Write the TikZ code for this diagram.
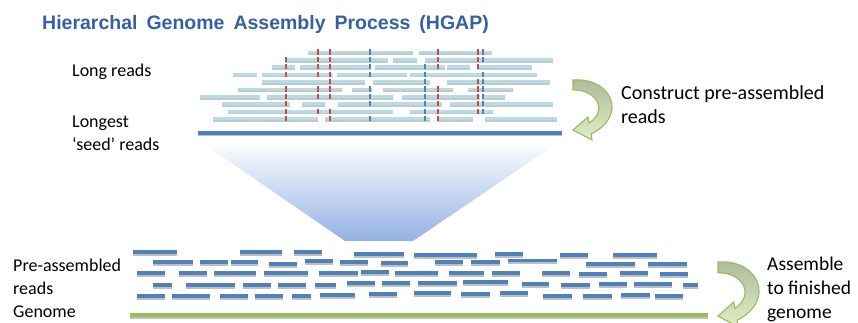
\documentclass[tikz,border=0pt]{standalone}
\usepackage{fontspec}
\setmainfont{Carlito}
\newfontfamily\titlefont{Liberation Sans}
\usetikzlibrary{positioning}

\definecolor{seedblue}{RGB}{79,129,189}
\definecolor{readlight}{RGB}{180,221,234}
\definecolor{markred}{RGB}{200,75,70}
\definecolor{genomegreen}{RGB}{155,187,89}
\definecolor{titleblue}{RGB}{54,96,160}
\definecolor{funnelblue}{RGB}{148,178,228}
\definecolor{curltop}{RGB}{172,184,156}
\definecolor{curlbottom}{RGB}{224,238,198}

\newcommand\widewords{\spaceskip=0.46em\relax}

\tikzset{
    lbl/.style={font=\fontsize{18}{23}\selectfont, inner sep=0pt, anchor=west, align=left},
    biglbl/.style={lbl, font=\fontsize{19.5}{24}\selectfont},
    titlelbl/.style={font=\titlefont\bfseries\fontsize{19.5}{22}\selectfont,
        text=titleblue, inner sep=0pt, anchor=base west},
    longread/.style={draw=readlight, line width=2.8pt,
        preaction={draw=black!22, line width=2.8pt, transform canvas={yshift=-1.8pt}}},
    shortread/.style={draw=seedblue, line width=3.4pt,
        preaction={draw=black!25, line width=3.4pt, transform canvas={yshift=-1.8pt}}},
    redmark/.style={draw=markred, line width=1.6pt},
    bluemark/.style={draw=seedblue, line width=1.6pt},
    curl/.pic={
        \shadedraw[draw=genomegreen, line width=1.1pt, top color=curltop, bottom color=curlbottom]
            (0,0) .. controls (38,-3) and (56,35) .. (18.2,54)
            -- (19,60) -- (0,50) -- (15,37) -- (16,43)
            .. controls (34,32) and (26,10) .. (0,10) -- cycle;
    }
}

\begin{document}
\begin{tikzpicture}[x=1pt, y=-1pt]
    \useasboundingbox (0,0) rectangle (858,323);

    \node[titlelbl] (title) at (42,30) {\widewords Hierarchal Genome Assembly Process (HGAP)};

    % labels on the left
    \node[lbl] (longlbl) at (72,72) {Long reads};
    \node[lbl] (seedlbl) at (72,133.5) {Longest\\‘seed’ reads};
    \node[lbl] (prelbl) at (13,277) {Pre-assembled\\reads};
    \node[lbl] (genomelbl) at (13,312) {Genome};

    % labels on the right
    \node[biglbl, font=\fontsize{20}{24}\selectfont] (constructlbl) at (621,105) {Construct pre-assembled\\reads};
    \node[biglbl] (assemblelbl) at (767,289) {Assemble\\to finished\\genome};

    % funnel from seed reads down to pre-assembled reads
    \shade[top color=white, bottom color=funnelblue]
        (198,140) -- (562,140) -- (413,241) -- (345,241) -- cycle;

    % long reads
    \foreach \y/\a/\b in {
        52/308/413, 52/419/492,
        59.4/285/388, 59.4/393/417, 59.4/425/553,
        66.8/272/295, 66.8/300/370, 66.8/375/445, 66.8/447/470, 66.8/477/532,
        74.2/233/257, 74.2/262/333, 74.2/337/407, 74.2/410/537,
        81.6/262/365, 81.6/373/430, 81.6/447/550,
        89/238/342, 89/352/372, 89/383/453, 89/468/513,
        96.4/200/260, 96.4/267/393, 96.4/402/480, 96.4/482/505,
        103.8/222/290, 103.8/302/325, 103.8/338/442, 103.8/450/553,
        111.2/228/393, 111.2/410/493,
        118.6/213/318, 118.6/325/430, 118.6/437/473, 118.6/485/557}
        \draw[longread] (\a,\y) -- (\b,\y);

    % differences along the reads
    \foreach \y/\reds/\blues in {
        52/{318,330,438,478}/{370,483},
        59.4/{286,318,330,438,478}/{370,483},
        66.8/{286,318,330,438,478}/{370,425},
        74.2/{286,318,330}/{370,425,483},
        81.6/{330,478}/{425,483},
        89/{286,318,330,438,478}/{370,425,483},
        96.4/{286,318,330,438,478}/{370,425,483},
        103.8/{286,438,478}/{370,425,483},
        111.2/{286,318,330,438,478}/{425,483},
        118.6/{286,330,438}/{370,425}}{
        \foreach \x in \reds \draw[redmark] (\x,\y-2.6) -- (\x,\y+2.6);
        \foreach \x in \blues \draw[bluemark] (\x,\y-2.6) -- (\x,\y+2.6);
    }

    % seed read
    \draw[shortread, line width=3.6pt] (198,133) -- (562,133);

    % pre-assembled reads
    \foreach \y/\a/\b in {
        252/133/177, 252/240/282, 252/294/322, 254/354/404, 255/414/477,
        254/495/523, 255/560/588, 255/613/657,
        262/153/193, 262/200/228, 262/231/258, 264/269/297, 261/305/333,
        262/340/368, 263/381/408, 262/435/463, 262/471/500, 260.7/508/557,
        264/586/635, 264/648/687,
        273/137/165, 273/179/207, 273/214/256, 273/264/308, 273/319/358,
        272/361/389, 273/395/438, 273/449/484, 273/492/520, 273/542/570,
        274/579/607, 273/620/648, 274/660/688,
        285/153/172, 285/186/235, 285/243/271, 285/278/306, 285/315/336,
        283/347/375, 283/382/410, 283/418/457, 282/463/508, 284/522/549,
        285/561/590, 284/599/627, 284/634/672, 285/683/698,
        296/137/165, 296/172/210, 296/220/248, 296/255/283, 296/292/311,
        295/320/355, 294/369/397, 293/414/451, 294/461/490, 293/500/528,
        296/543/572, 296/583/612, 295/621/650, 296/655/683}
        \draw[shortread, line width=3.1pt] (\a,\y) -- (\b,\y);

    % genome
    \draw[shortread, draw=genomegreen, line width=4.5pt] (130,315) -- (708,315);

    % curved arrows
    \pic at (573,80) {curl};
    \pic[xscale=1.05, yscale=1.08] at (718,262) {curl};
\end{tikzpicture}
\end{document}
